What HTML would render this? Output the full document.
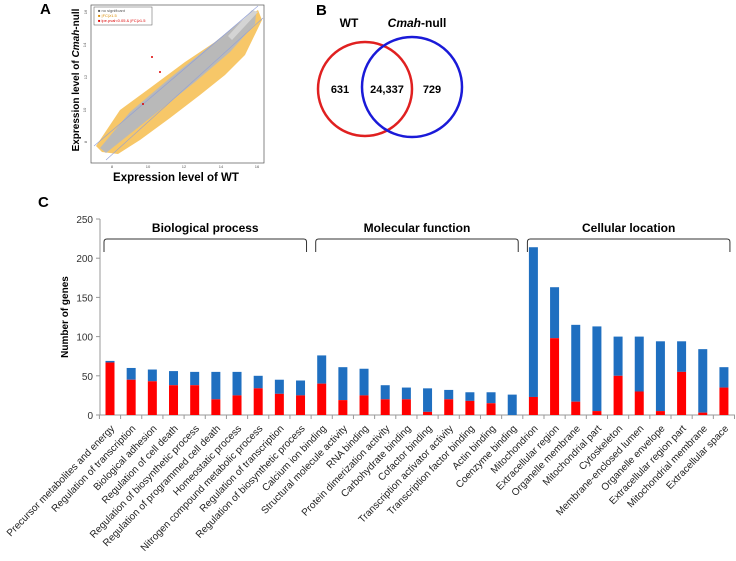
<!DOCTYPE html>
<html><head><meta charset="utf-8"><style>
body{margin:0;background:#fff;width:736px;height:556px;overflow:hidden}
svg{font-family:"Liberation Sans",sans-serif}
</style></head><body>
<svg width="736" height="556" xmlns="http://www.w3.org/2000/svg">
<!-- Panel A -->
<text x="40" y="14" font-size="15" font-weight="bold">A</text>
<g>
<rect x="91" y="5" width="173" height="158" fill="#fff" stroke="#555" stroke-width="0.7"/>
<polygon points="96,146 102,152 118,154 140,140 170,118 200,95 225,75 245,55 262,20 258,10 240,22 215,42 185,62 150,88 120,110" fill="#f5b942" opacity="0.8"/>
<polygon points="100,148 106,153 150,118 195,82 230,52 255,24 256,14 250,14 210,46 170,78 130,112" fill="#b9b9b9"/>
<polygon points="232,40 258,12 252,10 228,36" fill="#d4d4d4"/>
<line x1="94" y1="146" x2="258" y2="6" stroke="#8f9fd9" stroke-width="0.6"/>
<line x1="106" y1="160" x2="263" y2="18" stroke="#8f9fd9" stroke-width="0.6"/>
<circle cx="152" cy="57" r="1" fill="#d00"/><circle cx="160" cy="72" r="1" fill="#d00"/><circle cx="143" cy="104" r="1" fill="#d00"/>
<rect x="94" y="7" width="58" height="18" fill="#fff" stroke="#555" stroke-width="0.5"/>
<text x="98" y="12" font-size="4" fill="#555">■ no significant</text>
<text x="98" y="17" font-size="4" fill="#d98a00">■ |FC|≥1.5</text>
<text x="98" y="22" font-size="4" fill="#d00">■ lpe.pval&lt;0.05 &amp; |FC|≥1.5</text>
<g font-size="4" fill="#555" text-anchor="middle">
<text x="112" y="168">8</text><text x="148" y="168">10</text><text x="184" y="168">12</text><text x="221" y="168">14</text><text x="257" y="168">16</text>
<text x="86" y="143" transform="rotate(-90 86 142)">8</text><text x="86" y="110" transform="rotate(-90 86 110)">10</text>
<text x="86" y="78" transform="rotate(-90 86 77)">12</text><text x="86" y="45" transform="rotate(-90 86 45)">14</text><text x="86" y="13" transform="rotate(-90 86 12)">16</text>
</g>
</g>
<text x="176" y="181" font-size="11.5" font-weight="bold" text-anchor="middle">Expression level of WT</text>
<text x="0" y="0" font-size="10" font-weight="bold" text-anchor="middle" transform="translate(79,80) rotate(-90)">Expression level of <tspan font-style="italic">Cmah</tspan>-null</text>

<!-- Panel B -->
<text x="316" y="15" font-size="15" font-weight="bold">B</text>
<text x="349" y="27" font-size="12" font-weight="bold" text-anchor="middle">WT</text>
<text x="417" y="27" font-size="12" font-weight="bold" text-anchor="middle"><tspan font-style="italic">Cmah</tspan>-null</text>
<circle cx="365" cy="89" r="47" fill="none" stroke="#e02020" stroke-width="2.5"/>
<circle cx="412" cy="87" r="50" fill="none" stroke="#1a1ad8" stroke-width="2.5"/>
<g font-size="11" font-weight="bold" text-anchor="middle">
<text x="340" y="93">631</text>
<text x="387" y="93">24,337</text>
<text x="432" y="93">729</text>
</g>

<!-- Panel C -->
<text x="38" y="207" font-size="15" font-weight="bold">C</text>
<g id="chart"></g>
</svg>
<script>
const categories=["Precursor metabolites and energy","Regulation of transcription","Biological adhesion","Regulation of cell death","Regulation of biosynthetic process","Regulation of programmed cell death","Homeostatic process","Nitrogen compound metabolic process","Regulation of transcription","Regulation of biosynthetic process","Calcium ion binding","Structural molecule activity","RNA binding","Protein dimerization activity","Carbohydrate binding","Cofactor binding","Transcription activator activity","Transcription factor binding","Actin binding","Coenzyme binding","Mitochondrion","Extracellular region","Organelle membrane","Mitochondrial part","Cytoskeleton","Membrane-enclosed lumen","Organelle envelope","Extracellular region part","Mitochondrial membrane","Extracellular space"];
const totals=[69,60,58,56,55,55,55,50,45,44,76,61,59,38,35,34,32,29,29,26,214,163,115,113,100,100,94,94,84,61];
const redValues=[67,45,43,38,38,20,25,34,27,25,40,19,25,20,20,4,20,18,15,0,23,98,17,5,50,30,5,55,3,35];
const yTicks=[0,50,100,150,200,250];
const groups=[["Biological process",0,9],["Molecular function",10,19],["Cellular location",20,29]];
const NS="http://www.w3.org/2000/svg";
const g=document.getElementById('chart');
const x0=100,y0=415,pxPerUnit=196/250,x1=110,step=21.17,bw=9;
function yS(v){return y0-v*pxPerUnit}
function xS(i){return x1+i*step}
function mk(t,a,p){const e=document.createElementNS(NS,t);for(const k in a)e.setAttribute(k,a[k]);(p||g).appendChild(e);return e}
let e=mk('line',{x1:x0,y1:yS(250),x2:x0,y2:y0,stroke:'#999'});


e=mk('line',{x1:x0,y1:y0,x2:xS(29)+11,y2:y0,stroke:'#999'});


yTicks.forEach(v=>{
 mk('line',{x1:x0-4,y1:yS(v),x2:x0,y2:yS(v),stroke:'#999'});
 const t=mk('text',{x:x0-7,y:yS(v)+4,'font-size':10,'text-anchor':'end',fill:'#333'});t.textContent=v;
 
 
});
for(let i=0;i<=30;i++)mk('line',{x1:xS(i)-step/2,y1:y0,x2:xS(i)-step/2,y2:y0+4,stroke:'#999'});
const yt=mk('text',{transform:'translate(68,'+yS(125)+') rotate(-90)','font-size':10,'font-weight':'bold','text-anchor':'middle'});
yt.textContent='Number of genes';


categories.forEach((c,i)=>{
 const b=mk('rect',{x:xS(i)-bw/2,y:yS(totals[i]),width:bw,height:(totals[i]-redValues[i])*pxPerUnit,fill:'#1f6fc0'});
 
 
 const r=mk('rect',{x:xS(i)-bw/2,y:yS(redValues[i]),width:bw,height:redValues[i]*pxPerUnit,fill:'#ff0000'});
 
 
 const t=mk('text',{transform:'translate('+(xS(i)+5)+','+(y0+14)+') rotate(-46)','font-size':10,'text-anchor':'end',fill:'#222'});
 t.textContent=c;
 
 
});
groups.forEach(([name,a,b])=>{
 const xa=xS(a)-6,xb=xS(b)+6,yb=239;
 const p=mk('path',{d:`M${xa},${yb+13}V${yb+3}Q${xa},${yb} ${xa+3},${yb}H${xb-3}Q${xb},${yb} ${xb},${yb+3}V${yb+13}`,fill:'none',stroke:'#333','stroke-width':1});
 
 
 const t=mk('text',{x:(xa+xb)/2,y:232,'font-size':12,'font-weight':'bold','text-anchor':'middle'});
 t.textContent=name;
 
 
});
</script>
</body></html>
